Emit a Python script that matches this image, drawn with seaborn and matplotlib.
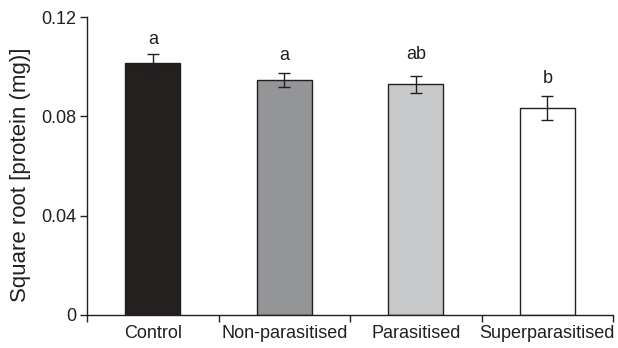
import matplotlib
matplotlib.use("Agg")
import matplotlib.pyplot as plt
import seaborn as sns
import pandas as pd

categories = ["Control", "Non-parasitised", "Parasitised", "Superparasitised"]
means = [0.1015, 0.0946, 0.0930, 0.0834]
errors = [0.0036, 0.0028, 0.0034, 0.0048]
letters = ["a", "a", "ab", "b"]
letter_y = [0.1091, 0.1027, 0.1031, 0.0934]
colors = ["#231f20", "#939598", "#c8c9ca", "#ffffff"]

sns.set_style("white")
plt.rcParams['font.family'] = ['Liberation Sans', 'DejaVu Sans']

df = pd.DataFrame({"group": categories, "value": means})

fig = plt.figure(figsize=(6.18, 3.48), dpi=100)
ax = fig.add_axes([0.141, 0.095, 0.851, 0.856])

sns.barplot(data=df, x="group", y="value", hue="group", palette=colors,
            order=categories, hue_order=categories, legend=False,
            errorbar=None, width=0.42, edgecolor="#231f20", linewidth=1.0, ax=ax)

xs = list(range(len(categories)))
ax.errorbar(xs, means, yerr=errors, fmt="none", ecolor="#231f20",
            elinewidth=1.0, capsize=4, capthick=1.0, zorder=5)

for x, ly, l in zip(xs, letter_y, letters):
    ax.text(x, ly, l, ha="center", va="baseline", fontsize=13, color="#231f20")

ax.set_xlim(-0.5, len(categories) - 0.5)
ax.set_ylim(0, 0.12)
ax.set_yticks([0, 0.04, 0.08, 0.12])
ax.set_yticklabels(["0", "0.04", "0.08", "0.12"], fontsize=13)
ax.set_xticks([i - 0.5 for i in range(len(categories) + 1)])
ax.set_xticklabels([])
ax.set_xticks(xs, minor=True)
ax.set_xticklabels(categories, minor=True, fontsize=13)
ax.tick_params(axis="x", which="minor", length=0, pad=7, bottom=True)
ax.tick_params(axis="x", which="major", length=5, width=1, color="#231f20",
               direction="out", bottom=True)
ax.tick_params(axis="y", length=5, width=1, color="#231f20", direction="out",
               pad=3, left=True)
ax.tick_params(colors="#231f20", which="both")
ax.set_xlabel("")
ax.set_ylabel("Square root [protein (mg)]", fontsize=16, color="#231f20")
ax.yaxis.set_label_coords(-0.106, 0.47)

for s in ["top", "right"]:
    ax.spines[s].set_visible(False)
for s in ["left", "bottom"]:
    ax.spines[s].set_color("#231f20")
    ax.spines[s].set_linewidth(1)

fig.savefig("out.png", dpi=100)
